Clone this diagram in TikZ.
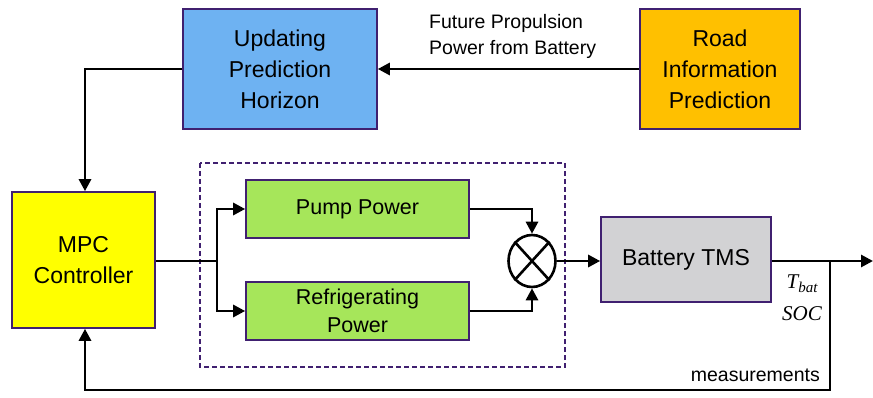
\documentclass[tikz,border=0pt]{standalone}
\usepackage{fontspec}
\setmainfont{Liberation Sans}
\newfontfamily\mathlike{Liberation Serif}
\usetikzlibrary{arrows.meta,shapes.geometric}
\definecolor{bord}{RGB}{64,32,112}
\definecolor{bluef}{RGB}{110,178,242}
\definecolor{orangef}{RGB}{255,192,0}
\definecolor{yellowf}{RGB}{255,255,0}
\definecolor{greenf}{RGB}{166,230,90}
\definecolor{grayf}{RGB}{210,210,212}
\tikzset{
  blk/.style={draw=bord, line width=1.6pt, align=center, inner sep=0pt,
    font=\fontsize{23}{31}\selectfont},
  gblk/.style={blk, fill=greenf, minimum width=223pt, minimum height=58pt,
    font=\fontsize{21.5}{28}\selectfont},
  conn/.style={line width=2.8pt, -{Triangle[length=12pt,width=12pt]}},
  plain/.style={line width=2.8pt},
  lbl/.style={font=\fontsize{19.5}{26}\selectfont, align=left, inner sep=0pt},
  varlbl/.style={font=\mathlike\itshape\fontsize{21}{24}\selectfont, inner sep=0pt}
}
\begin{document}
\begin{tikzpicture}[x=1pt,y=-1pt]
\useasboundingbox (0,0) rectangle (873,398);
% dashed frame
\draw[bord, line width=1.4pt, dash pattern=on 5pt off 3pt] (200,163) rectangle (565,367);
% blocks
\node[blk, fill=bluef, minimum width=194pt, minimum height=120pt] (uph) at (280,69) {Updating\\Prediction\\Horizon};
\node[blk, fill=orangef, minimum width=160pt, minimum height=120pt] (rip) at (720,69) {Road\\Information\\Prediction};
\node[blk, fill=yellowf, minimum width=143pt, minimum height=136pt] (mpc) at (83.5,260) {MPC\\Controller};
\node[gblk] (pump) at (357.5,209) {Pump Power};
\node[gblk] (refr) at (357.5,311) {Refrigerating\\Power};
\node[blk, fill=grayf, minimum width=170pt, minimum height=85pt] (tms) at (686,259.5) {Battery TMS};
\node[draw, line width=2.6pt, ellipse, minimum width=47pt, minimum height=52pt, inner sep=0pt] (mul) at (532,261) {};
\draw[line width=2.6pt] (mul.north west) -- (mul.south east) (mul.north east) -- (mul.south west);
% coordinates
\coordinate (split) at (217,261);
\coordinate (outend) at (873,261);
\coordinate (tap) at (830,261);
\coordinate (bot) at (830,390);
\coordinate (botl) at (85,390);
% connectors
\draw[conn] (rip.west) -- (uph.east);
\draw[conn] (uph.west) -| (85,0 |- mpc.north);
\draw[plain] (mpc.east |- split) -- (split);
\draw[conn] (split) |- (pump.west);
\draw[conn] (split) |- (refr.west);
\draw[conn] (pump.east) -| (mul.north);
\draw[conn] (refr.east) -| (mul.south);
\draw[conn] (mul.east) -- (tms.west |- mul.east);
\draw[conn] (tms.east |- outend) -- (outend);
\draw[conn, line join=miter] (tap) -- (bot) -- (botl) -- (85,0 |- mpc.south);
% labels
\node[lbl, anchor=north west] (fp) at (429,14) {Future Propulsion\\Power from Battery};
\node[varlbl] (tb) at (802,284) {T\raisebox{-4pt}{\fontsize{15}{15}\selectfont bat}};
\node[varlbl] (soc) at (802,314) {SOC};
\node[lbl, anchor=east] (meas) at (820,375) {measurements};
\end{tikzpicture}
\end{document}
